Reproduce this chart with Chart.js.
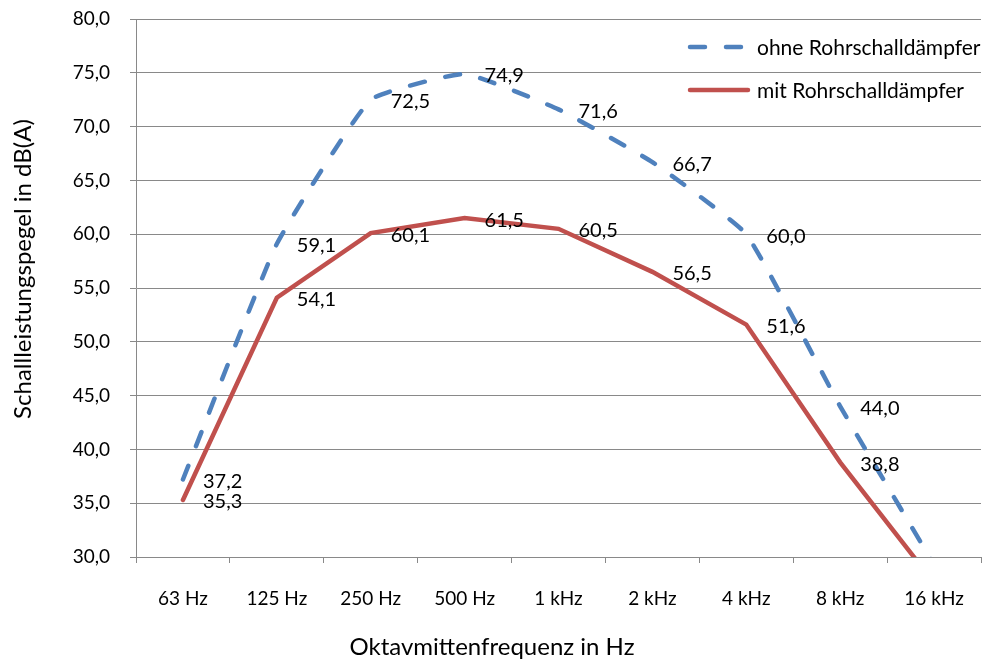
<!DOCTYPE html>
<html>
<head>
<meta charset="utf-8">
<script src="https://cdn.jsdelivr.net/npm/chart.js@4/dist/chart.umd.min.js"></script>
<style>
  html, body { margin: 0; padding: 0; background: #ffffff; }
  #wrap { width: 988px; height: 661px; }
</style>
</head>
<body>
<div id="wrap"><canvas id="chart" width="988" height="661"></canvas></div>
<script>
// Octave band centre frequencies
const categories = ['63 Hz', '125 Hz', '250 Hz', '500 Hz', '1 kHz', '2 kHz', '4 kHz', '8 kHz', '16 kHz'];
// Sound power level in dB(A)
const ohneValues = [37.2, 59.1, 72.5, 74.9, 71.6, 66.7, 60.0, 44.0, 29.3];
const mitValues  = [35.3, 54.1, 60.1, 61.5, 60.5, 56.5, 51.6, 38.8, 27.6];
const seriesNames = ['ohne Rohrschalldämpfer', 'mit Rohrschalldämpfer'];
const xTitle = 'Oktavmittenfrequenz in Hz';
const yTitle = 'Schallleistungspegel in dB(A)';
// Value axis range
const yMin = 30, yMax = 80, yStep = 5;

const FONT = 'Lato';
const gridColor = '#898989';
const fmt = v => v.toFixed(1).replace('.', ',');

// Value labels to the right of each point
const valueLabels = {
  id: 'valueLabels',
  afterDatasetsDraw(chart) {
    const ctx = chart.ctx;
    ctx.save();
    ctx.font = '20px ' + FONT;
    ctx.fillStyle = '#000000';
    ctx.textAlign = 'left';
    ctx.textBaseline = 'middle';
    chart.data.datasets.forEach((ds, di) => {
      const meta = chart.getDatasetMeta(di);
      meta.data.forEach((pt, i) => {
        const v = ds.data[i];
        if (v < yMin || v > yMax) return;
        ctx.fillText(fmt(v), pt.x + 20, pt.y + 2);
      });
    });
    ctx.restore();
  }
};

// Axis titles: x centred under the whole chart, y beside the value axis
const axisTitles = {
  id: 'axisTitles',
  afterDraw(chart) {
    const ctx = chart.ctx;
    ctx.save();
    ctx.fillStyle = '#000000';
    ctx.textAlign = 'center';
    ctx.textBaseline = 'middle';
    ctx.font = '24px ' + FONT;
    ctx.fillText(xTitle, chart.width / 2 - 2, 647);
    ctx.translate(23, 269);
    ctx.rotate(-Math.PI / 2);
    ctx.font = '24px ' + FONT;
    ctx.fillText(yTitle, 0, 0);
    ctx.restore();
  }
};

// Legend drawn inside the plot, top right
const innerLegend = {
  id: 'innerLegend',
  afterDraw(chart) {
    const ctx = chart.ctx;
    ctx.save();
    ctx.font = '21px ' + FONT;
    ctx.textBaseline = 'middle';
    ctx.textAlign = 'left';
    chart.data.datasets.forEach((ds, i) => {
      const y = 47 + i * 43;
      ctx.beginPath();
      ctx.strokeStyle = ds.borderColor;
      ctx.lineWidth = ds.borderWidth;
      ctx.lineCap = ds.borderCapStyle || 'butt';
      ctx.setLineDash(ds.borderDash || []);
      ctx.moveTo(690, y);
      ctx.lineTo(748, y);
      ctx.stroke();
      ctx.setLineDash([]);
      ctx.fillStyle = '#000000';
      ctx.fillText(ds.label, 757, y + 1);
    });
    ctx.restore();
  }
};

new Chart(document.getElementById('chart'), {
  type: 'line',
  data: {
    labels: categories,
    datasets: [
      {
        label: seriesNames[0],
        data: ohneValues,
        borderColor: '#4F81BD',
        borderWidth: 4.5,
        borderDash: [15, 21],
        borderCapStyle: 'round',
        tension: 0.12,
        pointRadius: 0,
        fill: false
      },
      {
        label: seriesNames[1],
        data: mitValues,
        borderColor: '#C0504D',
        borderWidth: 4.5,
        borderCapStyle: 'round',
        borderJoinStyle: 'miter',
        tension: 0,
        pointRadius: 0,
        fill: false
      }
    ]
  },
  options: {
    responsive: false,
    animation: false,
    devicePixelRatio: 1,
    elements: { line: { capBezierPoints: false } },
    layout: { padding: { top: 19, right: 4, bottom: 0, left: 0 } },
    plugins: {
      legend: { display: false },
      tooltip: { enabled: false }
    },
    scales: {
      x: {
        offset: true,
        grid: {
          offset: true,
          drawOnChartArea: false,
          drawTicks: true,
          tickLength: 6,
          color: gridColor
        },
        border: { color: gridColor, width: 1 },
        ticks: {
          color: '#000000',
          font: { family: FONT, size: 19 },
          padding: 24,
          maxRotation: 0,
          autoSkip: false
        },
        afterFit(scale) { scale.height = 661 - 557; }
      },
      y: {
        min: yMin,
        max: yMax,
        ticks: {
          stepSize: yStep,
          color: '#000000',
          font: { family: FONT, size: 19 },
          padding: 20,
          callback: v => fmt(v)
        },
        grid: {
          color: gridColor,
          tickLength: 6,
          drawTicks: true
        },
        border: { color: gridColor, width: 1 },
        afterFit(scale) {
          scale.width = 136;
          scale.paddingTop = 0;
          scale.paddingBottom = 0;
        }
      }
    }
  },
  plugins: [valueLabels, axisTitles, innerLegend]
});
</script>
</body>
</html>
